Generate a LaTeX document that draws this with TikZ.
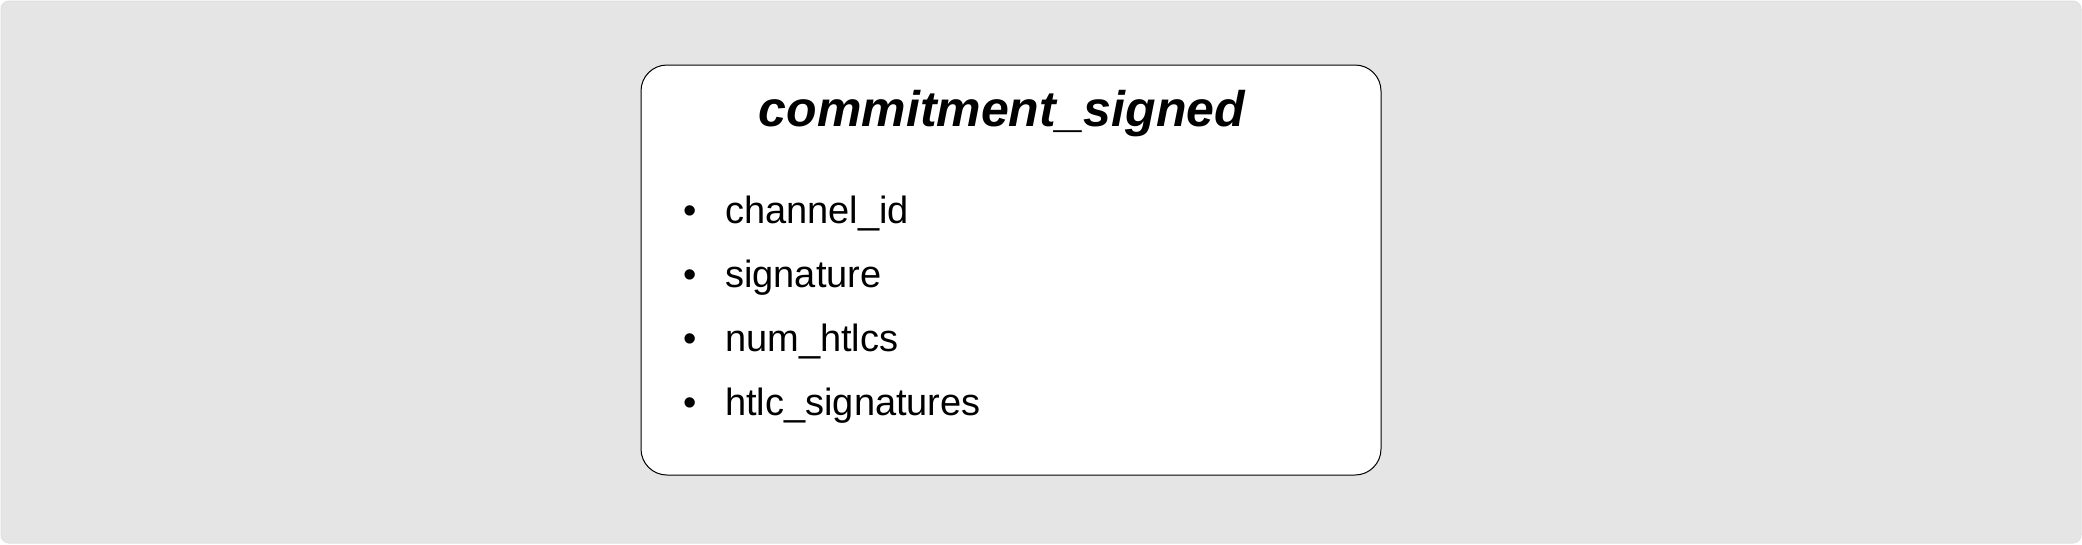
\documentclass[tikz,border=0pt]{standalone}
\usepackage{fontspec}
\setmainfont{Liberation Sans}
\usetikzlibrary{positioning}
\definecolor{panelgray}{RGB}{229,229,229}
\tikzstyle{panel} = [rounded corners=8pt, fill=panelgray, draw=black!12, line width=1pt]
\tikzstyle{frame} = [rectangle, rounded corners=26pt, minimum width=740pt, minimum height=410pt, draw=black, fill=white, line width=1pt]
\tikzstyle{heading} = [font=\fontsize{50}{60}\selectfont\bfseries\itshape, inner sep=0pt]
\tikzstyle{field} = [font=\fontsize{38}{46}\selectfont, inner sep=0pt]
\newcommand{\fielditem}[1]{\makebox[42pt][l]{\textbullet}#1}

\begin{document}
\begin{tikzpicture}[x=1pt, y=-1pt]
  \useasboundingbox (0,0) rectangle (2082,544);
  \draw [panel] (1,1) rectangle (2081,543);

  \node (msg) [frame] at (1011,270) {};
  \node (title) [heading, below=62pt of msg.north, anchor=base, xshift=-9pt] {commitment\_signed};

  \node (chanid) [field, anchor=base west] at (683,223) {\fielditem{channel\_id}};
  \node (sig) [field, below=64pt of chanid.base west, anchor=base west] {\fielditem{signature}};
  \node (numhtlcs) [field, below=64pt of sig.base west, anchor=base west] {\fielditem{num\_htlcs}};
  \node (htlcsigs) [field, below=64pt of numhtlcs.base west, anchor=base west] {\fielditem{htlc\_signatures}};
\end{tikzpicture}
\end{document}
